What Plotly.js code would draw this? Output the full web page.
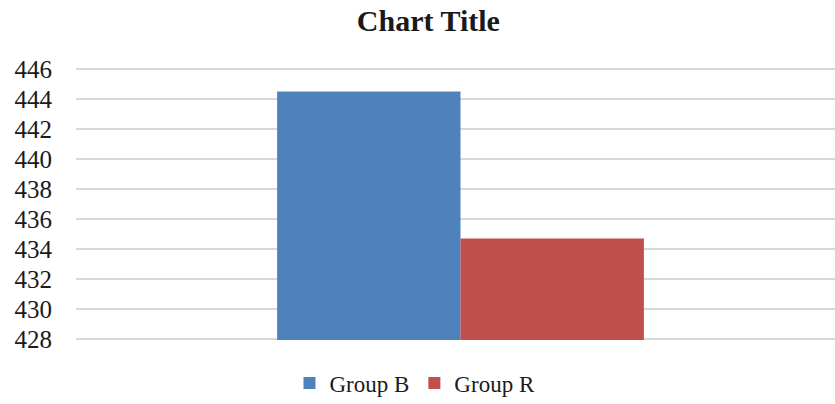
<!DOCTYPE html>
<html>
<head>
<meta charset="utf-8">
<script src="https://cdn.plot.ly/plotly-3.0.1.min.js"></script>
<style>
  html, body { margin: 0; padding: 0; background: #fff; overflow: hidden; }
  #chart { width: 835px; height: 404px; }
</style>
</head>
<body>
<div id="chart"></div>
<script>
// Single category, two groups compared side by side
const categories = ["Score"];
const seriesNames = ["Group B", "Group R"];
const groupB = [444.5];
const groupR = [434.7];
const yTicks = [428, 430, 432, 434, 436, 438, 440, 442, 444, 446];

const serif = "'Liberation Serif', 'DejaVu Serif', serif";

const traces = [
  {
    type: "bar",
    name: seriesNames[0],
    x: categories,
    y: groupB,
    marker: { color: "#4f81bd" },
    hoverinfo: "name+y"
  },
  {
    type: "bar",
    name: seriesNames[1],
    x: categories,
    y: groupR,
    marker: { color: "#c0504d" },
    hoverinfo: "name+y"
  }
];

const layout = {
  width: 835,
  height: 404,
  paper_bgcolor: "#ffffff",
  plot_bgcolor: "#ffffff",
  margin: { l: 76, r: 0, t: 68, b: 64 },
  title: {
    text: "<b>Chart Title</b>",
    font: { family: serif, size: 30, color: "#1a1a1a" },
    x: 0.513,
    xanchor: "center",
    y: 0.95,
    yanchor: "middle"
  },
  barmode: "group",
  bargap: 0.523,
  bargroupgap: 0,
  xaxis: {
    type: "category",
    range: [-0.5, 0.487],
    showticklabels: false,
    showgrid: false,
    zeroline: false,
    showline: false,
    ticks: "",
    fixedrange: true
  },
  yaxis: {
    // small padding so the 428 and 446 grid lines are drawn too
    range: [427.93, 446.07],
    tickmode: "array",
    tickvals: yTicks,
    ticktext: yTicks.map(String),
    showgrid: true,
    gridcolor: "#d9d9d9",
    gridwidth: 1.5,
    zeroline: false,
    showline: false,
    ticks: "",
    ticklabelstandoff: 23,
    tickfont: { family: serif, size: 25, color: "#1a1a1a" },
    fixedrange: true
  },
  showlegend: true,
  legend: {
    orientation: "h",
    xref: "container",
    yref: "container",
    x: 0.497,
    xanchor: "center",
    y: 0.052,
    yanchor: "middle",
    font: { family: serif, size: 23, color: "#1a1a1a" },
    itemwidth: 30,
    traceorder: "normal"
  }
};

Plotly.newPlot("chart", traces, layout, { displayModeBar: false, staticPlot: true });
</script>
</body>
</html>
